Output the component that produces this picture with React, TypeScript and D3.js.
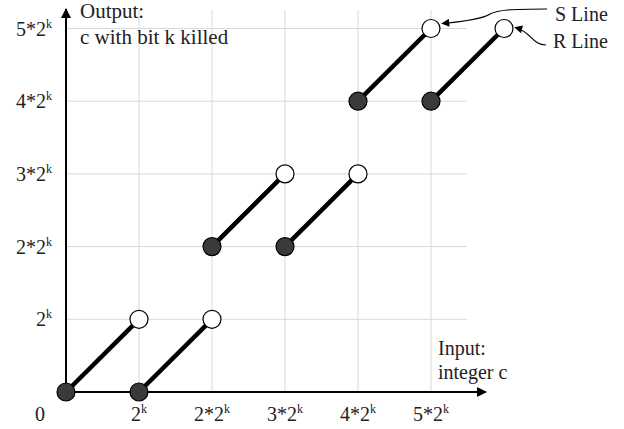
import React from "react";
import * as d3 from "d3";

// segment data: each segment goes from a filled start point to an open end point
const segSeries = ["S", "R", "S", "R", "S", "R"];
const segStartX = [0, 1, 2, 3, 4, 5];
const segStartY = [0, 0, 2, 2, 4, 4];
const segEndX = [1, 2, 3, 4, 5, 6];
const segEndY = [1, 1, 3, 3, 5, 5];

const xTickValues = [1, 2, 3, 4, 5];
const xTickLabels = ["2^k", "2*2^k", "3*2^k", "4*2^k", "5*2^k"];
const yTickValues = [1, 2, 3, 4, 5];
const yTickLabels = ["2^k", "2*2^k", "3*2^k", "4*2^k", "5*2^k"];

const FONT = "'Liberation Serif', 'Times New Roman', serif";

function TickText({ label, x, y, anchor }: { label: string; x: number; y: number; anchor: string }) {
  const [base, sup] = label.split("^");
  return (
    <text x={x} y={y} textAnchor={anchor} fontSize={20} fontFamily={FONT} fill="#222">
      {base}
      {sup && (
        <tspan fontSize={12} dy={-8}>
          {sup}
        </tspan>
      )}
    </text>
  );
}

export default function App() {
  const width = 624;
  const height = 429;

  const x = d3.scaleLinear().domain([0, 6]).range([66, 504]);
  const y = d3.scaleLinear().domain([0, 5]).range([392, 28.5]);

  const gridRight = 467;
  const gridTop = 10;

  const segs = segSeries.map((s, i) => ({
    s,
    x0: segStartX[i],
    y0: segStartY[i],
    x1: segEndX[i],
    y1: segEndY[i],
  }));

  const sTarget = segs.filter((d) => d.s === "S").slice(-1)[0];
  const rTarget = segs.filter((d) => d.s === "R").slice(-1)[0];
  const sx = x(sTarget.x1);
  const sy = y(sTarget.y1);
  const rx = x(rTarget.x1);
  const ry = y(rTarget.y1);

  return (
    <svg
      width={width}
      height={height}
      style={{ position: "absolute", left: 0, top: 0, background: "#fff" }}
    >
      <defs>
        <marker id="axisHead" viewBox="0 0 10 10" refX="9" refY="5" markerWidth="12" markerHeight="10"
          markerUnits="userSpaceOnUse" orient="auto">
          <path d="M0,0 L10,5 L0,10 Z" fill="#000" />
        </marker>
        <marker id="callHead" viewBox="0 0 10 10" refX="9" refY="5" markerWidth="10" markerHeight="8"
          markerUnits="userSpaceOnUse" orient="auto">
          <path d="M0,0 L10,5 L0,10 Z" fill="#000" />
        </marker>
      </defs>

      {/* grid */}
      {xTickValues.map((v) => (
        <line key={"gx" + v} x1={x(v)} x2={x(v)} y1={gridTop} y2={y(0)} stroke="#d9d9d9" strokeWidth={1} />
      ))}
      {yTickValues.map((v) => (
        <line key={"gy" + v} x1={x(0)} x2={gridRight} y1={y(v)} y2={y(v)} stroke="#d9d9d9" strokeWidth={1} />
      ))}

      {/* axes */}
      <line x1={x(0)} y1={y(0)} x2={486} y2={y(0)} stroke="#000" strokeWidth={2} markerEnd="url(#axisHead)" />
      <line x1={x(0)} y1={y(0)} x2={x(0)} y2={9} stroke="#000" strokeWidth={2} markerEnd="url(#axisHead)" />

      {/* tick labels */}
      <text x={40} y={421} textAnchor="middle" fontSize={20} fontFamily={FONT} fill="#222">0</text>
      {xTickValues.map((v, i) => (
        <TickText key={"tx" + v} label={xTickLabels[i]} x={x(v)} y={421} anchor="middle" />
      ))}
      {yTickValues.map((v, i) => (
        <TickText key={"ty" + v} label={yTickLabels[i]} x={52} y={y(v) + 7} anchor="end" />
      ))}

      {/* axis titles */}
      <text x={80} y={18} fontSize={21} fontFamily={FONT} fill="#222">Output:</text>
      <text x={80} y={44} fontSize={21} fontFamily={FONT} fill="#222">c with bit k killed</text>
      <text x={438} y={355} fontSize={20} fontFamily={FONT} fill="#222">Input:</text>
      <text x={438} y={379} fontSize={20} fontFamily={FONT} fill="#222">integer c</text>

      {/* segments */}
      {segs.map((d, i) => (
        <line key={"l" + i} x1={x(d.x0)} y1={y(d.y0)} x2={x(d.x1)} y2={y(d.y1)} stroke="#000" strokeWidth={4.5} />
      ))}
      {segs.map((d, i) => (
        <circle key={"f" + i} cx={x(d.x0)} cy={y(d.y0)} r={9} fill="#3a3a3a" stroke="#000" strokeWidth={1.2} />
      ))}
      {segs.map((d, i) => (
        <circle key={"o" + i} cx={x(d.x1)} cy={y(d.y1)} r={9} fill="#fff" stroke="#000" strokeWidth={1.2} />
      ))}

      {/* callouts */}
      <path
        d={`M547,9 C510,9 498,10 490,14 C484,18 470,21 ${sx + 11},${sy - 5}`}
        fill="none" stroke="#000" strokeWidth={1.2} markerEnd="url(#callHead)"
      />
      <text x={555} y={21} fontSize={20} fontFamily={FONT} fill="#222">S Line</text>
      <path
        d={`M546,45 C532,45 532,32 ${rx + 11},${ry - 1}`}
        fill="none" stroke="#000" strokeWidth={1.2} markerEnd="url(#callHead)"
      />
      <text x={553} y={48} fontSize={20} fontFamily={FONT} fill="#222">R Line</text>
    </svg>
  );
}
